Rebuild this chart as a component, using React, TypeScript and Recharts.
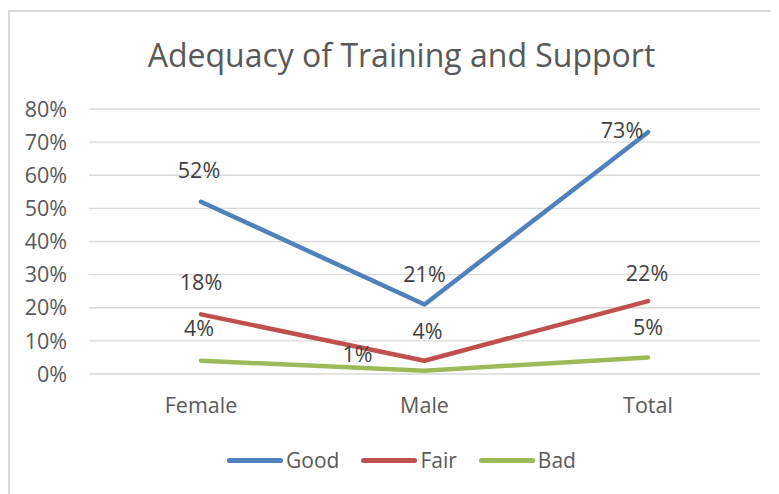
import { CartesianGrid, LabelList, Line, LineChart, XAxis, YAxis } from "recharts";

const categories = ["Female", "Male", "Total"];
const good = [52, 21, 73];
const fair = [18, 4, 22];
const bad = [4, 1, 5];
const yTicks = [0, 10, 20, 30, 40, 50, 60, 70, 80];

const data = categories.map((name, i) => ({ name, good: good[i], fair: fair[i], bad: bad[i] }));

const series = [
  { key: "good", label: "Good", color: "#4F81BD" },
  { key: "fair", label: "Fair", color: "#C0504D" },
  { key: "bad", label: "Bad", color: "#9BBB59" },
];

// label nudges (relative to the point) for the few labels Excel moved
const labelNudge: Record<string, [number, number][]> = {
  good: [[-2, -32], [0, -31], [-26, -3]],
  fair: [[0, -33], [3, -30], [-1, -29]],
  bad: [[-2, -33], [-67, -17], [0, -31]],
};

const font = "'Open Sans', sans-serif";

const makeLabel = (key: string) => (props: any) => {
  const { x, y, value, index } = props;
  const [dx, dy] = labelNudge[key][index] || [0, -32];
  return (
    <text
      x={x + dx}
      y={y + dy}
      textAnchor="middle"
      dominantBaseline="central"
      fontSize={21.5}
      fill="#404040"
      fontFamily={font}
    >
      {value}%
    </text>
  );
};

const App = () => {
  return (
    <div
      style={{
        position: "relative",
        width: 769,
        height: 482,
        marginTop: 2,
        borderTop: "2px solid #d9d9d9",
        borderLeft: "2px solid #d9d9d9",
        fontFamily: font,
        background: "#fff",
      }}
    >
      <div
        style={{
          position: "absolute",
          top: 22,
          left: 7,
          width: 769,
          lineHeight: "42px",
          textAlign: "center",
          fontSize: 32,
          color: "#595959",
        }}
      >
        Adequacy of Training and Support
      </div>

      <div style={{ position: "absolute", top: 0, left: 0 }}>
        <LineChart width={769} height={420} data={data} margin={{ top: 97, right: 19, left: 0, bottom: 0 }}>
          <CartesianGrid horizontal vertical={false} stroke="#d9d9d9" strokeWidth={1.3} />
          <XAxis
            dataKey="name"
            axisLine={false}
            tickLine={false}
            tickSize={0}
            tickMargin={24}
            height={58}
            padding={{ left: 112, right: 112 }}
            tick={{ fontSize: 21.5, fill: "#595959", fontFamily: font }}
          />
          <YAxis
            domain={[0, 80]}
            ticks={yTicks}
            tickFormatter={(v) => `${v}%`}
            axisLine={false}
            tickLine={false}
            tickSize={0}
            tickMargin={22}
            width={79}
            tick={{ fontSize: 21.5, fill: "#595959", fontFamily: font }}
          />
          {series.map((s) => (
            <Line
              key={s.key}
              type="linear"
              dataKey={s.key}
              stroke={s.color}
              strokeWidth={4.5}
              strokeLinecap="round"
              strokeLinejoin="round"
              dot={false}
              isAnimationActive={false}
            >
              <LabelList dataKey={s.key} content={makeLabel(s.key)} />
            </Line>
          ))}
        </LineChart>
      </div>

      <div
        style={{
          position: "absolute",
          top: 435,
          left: 7,
          width: 769,
          height: 26,
          display: "flex",
          alignItems: "center",
          justifyContent: "center",
          gap: 22,
        }}
      >
        {series.map((s) => (
          <div key={s.key} style={{ display: "flex", alignItems: "center", gap: 3 }}>
            <div style={{ width: 56, height: 5, borderRadius: 3, background: s.color }} />
            <span style={{ fontSize: 21, color: "#595959" }}>{s.label}</span>
          </div>
        ))}
      </div>
    </div>
  );
};

export default App;
